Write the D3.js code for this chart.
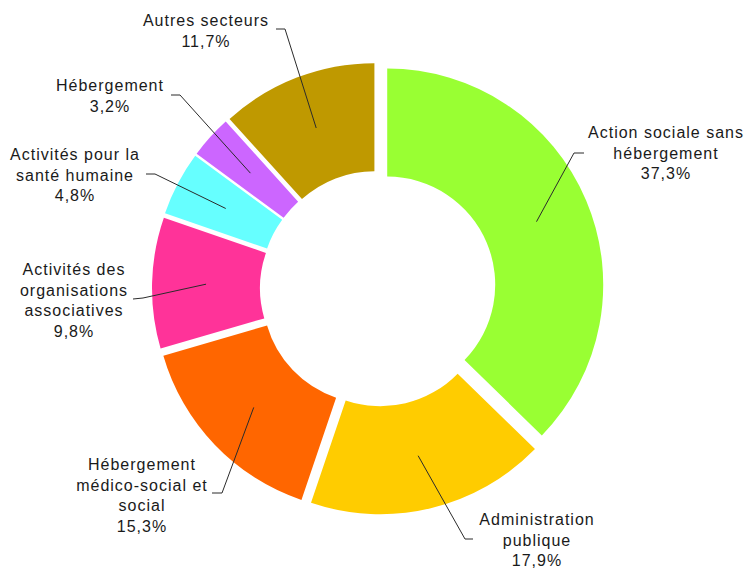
<!DOCTYPE html>
<html lang="fr">
<head>
    <meta charset="UTF-8">
    <title>Répartition par secteur</title>
    <style>
        html, body { margin: 0; padding: 0; background: #ffffff; }
        #chart text {
            font-family: "Liberation Sans", Arial, sans-serif;
            font-size: 16px;
            letter-spacing: 1px;
            fill: #1a1a1a;
        }
        .leader { fill: none; stroke: #2b2b2b; stroke-width: 1; }
    </style>
</head>
<body>
    <div id="chart"></div>

    <script src="https://d3js.org/d3.v7.min.js"></script>
    <script>
        // secteurs, dans l'ordre du tracé (sens horaire depuis midi)
        const categories = [
            "Action sociale sans hébergement",
            "Administration publique",
            "Hébergement médico-social et social",
            "Activités des organisations associatives",
            "Activités pour la santé humaine",
            "Hébergement",
            "Autres secteurs"
        ];
        const values = [37.3, 17.9, 15.3, 9.8, 4.8, 3.2, 11.7];
        const colors = ["#99ff33", "#ffcc00", "#ff6600", "#ff3399", "#66ffff", "#cc66ff", "#bf9900"];

        // découpage des étiquettes en lignes
        const labelLines = [
            ["Action sociale sans", "hébergement"],
            ["Administration", "publique"],
            ["Hébergement", "médico-social et", "social"],
            ["Activités des", "organisations", "associatives"],
            ["Activités pour la", "santé humaine"],
            ["Hébergement"],
            ["Autres secteurs"]
        ];

        // placement des étiquettes : centre du texte, première ligne, coude et bout du trait
        const labelLayout = [
            { x: 666, y: 138, elbow: [574, 153], end: [584, 153] },
            { x: 537, y: 525, elbow: [465, 539], end: [473, 539] },
            { x: 142, y: 470, elbow: [222, 493], end: [212, 493] },
            { x: 74,  y: 275, elbow: [143, 298], end: [133, 299] },
            { x: 75,  y: 160, elbow: [155, 174], end: [146, 174] },
            { x: 110, y: 91,  elbow: [180, 95],  end: [171, 95] },
            { x: 206, y: 26,  elbow: [285, 29],  end: [276, 29] }
        ];

        document.addEventListener("DOMContentLoaded", () => {
            const width = 746, height = 569;
            const cx = 378, cy = 288.5;
            const outer = 216, inner = 108, explode = 10;
            const lineHeight = 20.5;

            const svg = d3.select("#chart").append("svg")
                .attr("width", width)
                .attr("height", height);

            const pie = d3.pie().sort(null).value(d => d);
            const arc = d3.arc().innerRadius(inner).outerRadius(outer);
            const slices = pie(values);

            const offset = d => {
                const mid = (d.startAngle + d.endAngle) / 2;
                return [cx + explode * Math.sin(mid), cy - explode * Math.cos(mid)];
            };

            svg.append("g").selectAll("path")
                .data(slices)
                .enter().append("path")
                .attr("transform", d => `translate(${offset(d)})`)
                .attr("d", arc)
                .attr("fill", (d, i) => colors[i]);

            // traits de rappel
            svg.append("g").selectAll("polyline")
                .data(slices)
                .enter().append("polyline")
                .attr("class", "leader")
                .attr("points", (d, i) => {
                    const o = offset(d);
                    const c = arc.centroid(d);
                    const l = labelLayout[i];
                    return [[o[0] + c[0], o[1] + c[1]], l.elbow, l.end].join(" ");
                });

            // étiquettes
            const labels = svg.append("g").selectAll("text")
                .data(slices)
                .enter().append("text")
                .attr("text-anchor", "middle")
                .attr("x", (d, i) => labelLayout[i].x)
                .attr("y", (d, i) => labelLayout[i].y);

            labels.each(function(d, i) {
                const t = d3.select(this);
                const lines = labelLines[i].concat([d3.format(".1f")(values[i]).replace(".", ",") + "%"]);
                lines.forEach((line, k) => {
                    t.append("tspan")
                        .attr("x", labelLayout[i].x)
                        .attr("dy", k === 0 ? 0 : lineHeight)
                        .text(line);
                });
            });
        });
    </script>
</body>
</html>
